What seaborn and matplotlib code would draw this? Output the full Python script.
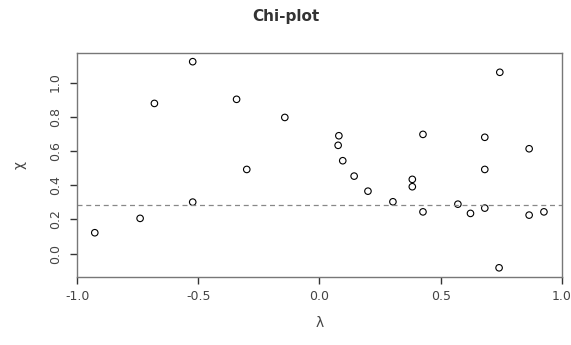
import numpy as np
import pandas as pd
import matplotlib
matplotlib.use("Agg")
import matplotlib.pyplot as plt
import seaborn as sns

lam = [-0.927, -0.740, -0.681, -0.523, -0.523, -0.342, -0.300, -0.143,
       0.080, 0.077, 0.096, 0.143, 0.200, 0.303, 0.383, 0.383, 0.427,
       0.427, 0.571, 0.623, 0.682, 0.682, 0.682, 0.744, 0.741, 0.865,
       0.865, 0.926]
chi = [0.122, 0.206, 0.878, 1.122, 0.301, 0.902, 0.492, 0.796,
       0.689, 0.633, 0.543, 0.453, 0.365, 0.303, 0.434, 0.391, 0.697,
       0.244, 0.289, 0.235, 0.680, 0.492, 0.266, 1.060, -0.083, 0.613,
       0.225, 0.244]
ref_line = 0.284
xticks = [-1.0, -0.5, 0.0, 0.5, 1.0]
yticks = [0.0, 0.2, 0.4, 0.6, 0.8, 1.0]

df = pd.DataFrame({"lambda": lam, "chi": chi})

sns.set_style("ticks")
plt.rcParams['font.family'] = ['DejaVu Sans']

fig = plt.figure(figsize=(5.71, 3.45), dpi=100)
ax = fig.add_axes([0.135, 0.197, 0.849, 0.649])

sns.scatterplot(data=df, x="lambda", y="chi", ax=ax, marker="o", s=22,
                facecolors="none", edgecolor="black", linewidth=0.8)
ax.axhline(ref_line, color="#888888", linestyle=(0, (4, 3)), linewidth=0.9)

ax.set_xlim(-1.0, 1.0)
ax.set_ylim(-0.137, 1.172)
ax.set_xticks(xticks)
ax.set_xticklabels([f"{t:.1f}" for t in xticks], fontsize=9, color="#444444")
ax.set_yticks(yticks)
ax.set_yticklabels([f"{t:.1f}" for t in yticks], fontsize=9, color="#444444",
                   rotation=90, va="center")
ax.tick_params(axis="both", direction="out", length=5, width=1, color="#333333")
ax.tick_params(axis="x", pad=4)
ax.tick_params(axis="y", pad=6)
for s in ax.spines.values():
    s.set_color("#777777")
    s.set_linewidth(1.0)

ax.set_xlabel("λ", fontsize=10, color="#444444", labelpad=10)
ax.set_ylabel("χ", fontsize=10, color="#444444", labelpad=16)
fig.suptitle("Chi-plot", x=0.5, y=0.974, fontsize=11, fontweight="bold",
             color="#333333")

fig.savefig("out.png", dpi=100)
